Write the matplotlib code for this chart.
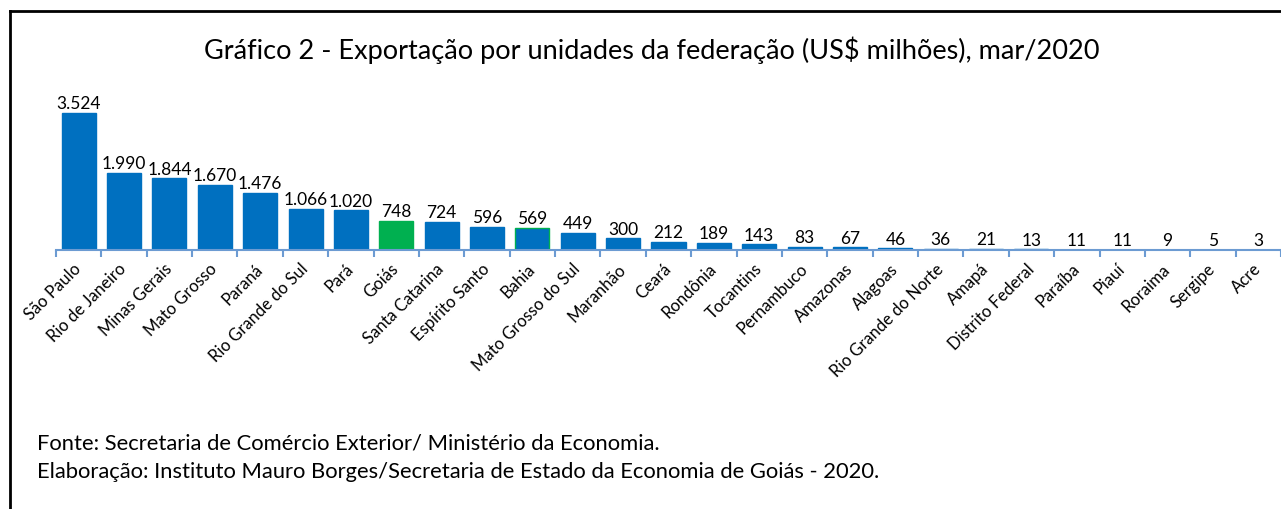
import matplotlib.pyplot as plt
from matplotlib.lines import Line2D

plt.rcParams['font.family'] = ['Lato', 'DejaVu Sans']

states = ['São Paulo', 'Rio de Janeiro', 'Minas Gerais', 'Mato Grosso', 'Paraná',
          'Rio Grande do Sul', 'Pará', 'Goiás', 'Santa Catarina', 'Espírito Santo',
          'Bahia', 'Mato Grosso do Sul', 'Maranhão', 'Ceará', 'Rondônia', 'Tocantins',
          'Pernambuco', 'Amazonas', 'Alagoas', 'Rio Grande do Norte', 'Amapá',
          'Distrito Federal', 'Paraíba', 'Piauí', 'Roraima', 'Sergipe', 'Acre']
exports = [3524, 1990, 1844, 1670, 1476, 1066, 1020, 748, 724, 596, 569, 449, 300,
           212, 189, 143, 83, 67, 46, 36, 21, 13, 11, 11, 9, 5, 3]

blue = '#0070C0'
green = '#00B050'
colors = [green if s == 'Goiás' else blue for s in states]
edges = [green if s in ('Goiás', 'Bahia') else blue for s in states]

fig = plt.figure(figsize=(12.81, 5.09), dpi=100)
ax = fig.add_axes([56 / 1281, 1 - 250 / 509, 1 - 56 / 1281, 155.5 / 509])

x = range(len(states))
ax.bar(x, exports, width=0.75, color=colors, edgecolor=edges, linewidth=1)

# rotulos de dados no formato brasileiro
for i, v in enumerate(exports):
    lbl = f'{v:,}'.replace(',', '.')
    ax.annotate(lbl, (i, v), xytext=(0, 0.5), textcoords='offset points',
                ha='center', va='bottom', fontsize=12.5)

ax.set_xlim(-0.5, len(states) - 0.5)
ax.set_ylim(0, 4000)
ax.set_yticks([])
for sp in ['top', 'right', 'left']:
    ax.spines[sp].set_visible(False)
ax.spines['bottom'].set_color('#6C9BD2')
ax.spines['bottom'].set_linewidth(1.5)

# ticks entre categorias, rotulos no centro
ax.set_xticks([i - 0.5 for i in range(len(states) + 1)], minor=False)
ax.set_xticklabels([])
ax.tick_params(axis='x', which='major', direction='out', length=5, color='#6C9BD2', width=1.5)
ax.set_xticks(list(x), minor=True)
ax.set_xticklabels(states, minor=True, rotation=45, ha='right', va='center',
                   rotation_mode='anchor', fontsize=12)
ax.tick_params(axis='x', which='minor', length=0, pad=12)

fig.text(0.509, 1 - 50 / 509, 'Gráfico 2 - Exportação por unidades da federação (US$ milhões), mar/2020',
         ha='center', va='center', fontsize=19.5)
fig.text(37 / 1281, 1 - 443 / 509, 'Fonte: Secretaria de Comércio Exterior/ Ministério da Economia.',
         ha='left', va='center', fontsize=15.8)
fig.text(37 / 1281, 1 - 472 / 509,
         'Elaboração: Instituto Mauro Borges/Secretaria de Estado da Economia de Goiás - 2020.',
         ha='left', va='center', fontsize=15.8)

fig.add_artist(Line2D([10 / 1281, 1], [1 - 11 / 509, 1 - 11 / 509], color='black', lw=2,
                      transform=fig.transFigure))
fig.add_artist(Line2D([10 / 1281, 10 / 1281], [0, 1 - 11 / 509], color='black', lw=2,
                      transform=fig.transFigure))

fig.savefig('out.png', dpi=100)
